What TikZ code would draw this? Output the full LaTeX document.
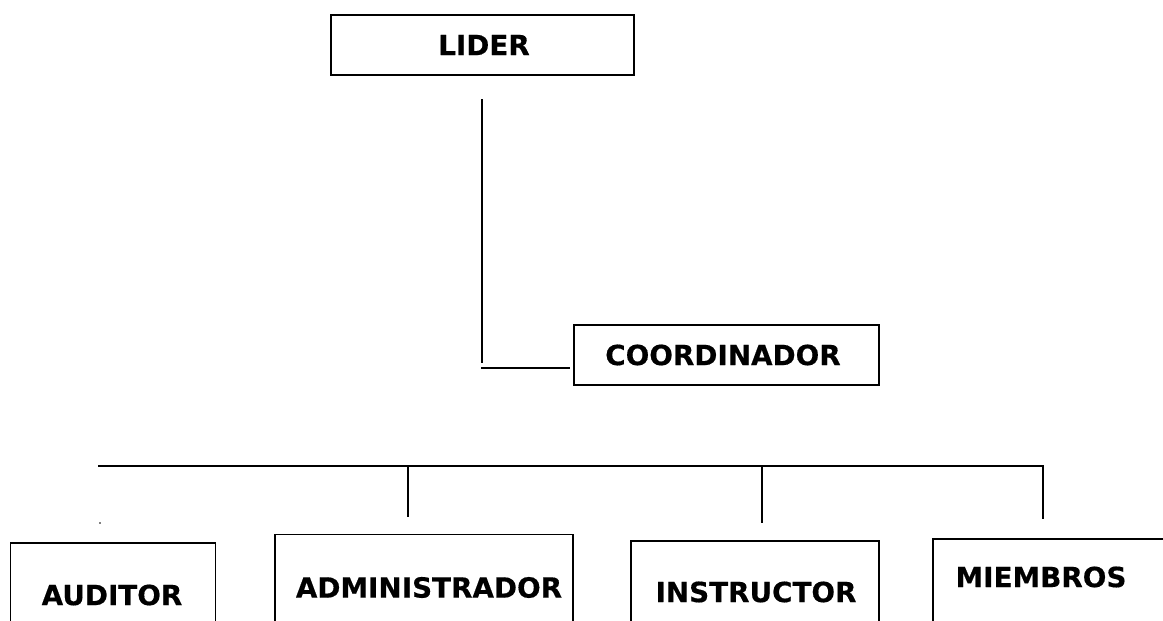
\documentclass[tikz,border=0pt]{standalone}
\usepackage{fontspec}
\setmainfont{DejaVu Sans}
\newfontfamily\heavyfont[FakeBold=0.4]{DejaVu Sans Bold}
\begin{document}
\begin{tikzpicture}[x=1pt,y=1pt,
  box/.style={draw=black,line width=1.6pt,rectangle,inner sep=0pt,anchor=north west},
  lbl/.style={font=\heavyfont\fontsize{27.8}{30}\selectfont,inner sep=0pt,anchor=center},
  link/.style={line width=1.7pt,line cap=butt}]
  \clip (0,0) rectangle (1163,-621);
  \useasboundingbox (0,0) rectangle (1163,-621);
  % boxes
  \node[box,minimum width=303pt,minimum height=60pt] (lider) at (330,-14) {};
  \node[box,minimum width=305pt,minimum height=60pt] (coord) at (573,-324) {};
  \node[box,minimum width=205pt,minimum height=120pt] (aud) at (9.5,-542) {};
  \node[box,minimum width=298pt,minimum height=120pt] (adm) at (274,-533.5) {};
  \node[box,minimum width=248pt,minimum height=120pt] (ins) at (630,-540) {};
  \node[box,minimum width=260pt,minimum height=120pt] (mie) at (932,-538) {};
  % labels
  \node[lbl] (liderT) at (484,-45) {LIDER};
  \node[lbl] (coordT) at (723,-355) {COORDINADOR};
  \node[lbl] (audT) at (112,-595) {AUDITOR};
  \node[lbl] (admT) at (429,-587.5) {ADMINISTRADOR};
  \node[lbl] (insT) at (756,-592) {INSTRUCTOR};
  \node[lbl] (mieT) at (1041,-577) {MIEMBROS};
  % free ends of the connectors
  \coordinate (l1) at (482,-99);
  \coordinate (l2) at (482,-363);
  \coordinate (c1) at (481,-368);
  \coordinate (c2) at (570,-368);
  \coordinate (b0) at (98,-466);
  \coordinate (b1) at (408,-466);
  \coordinate (b2) at (762,-466);
  \coordinate (b3) at (1043,-466);
  \coordinate (d1) at (408,-516.5);
  \coordinate (d2) at (762,-523);
  \coordinate (d3) at (1043,-519);
  % leader to coordinator
  \draw[link] (l1) -- (l2);
  \draw[link] (c1) -- (c2);
  % bus and drops
  \draw[link] (b0) -- (b3) -- (d3);
  \draw[link] (b1) -- (d1);
  \draw[link] (b2) -- (d2);
  \fill (100,-523) circle (0.8pt);
\end{tikzpicture}
\end{document}
